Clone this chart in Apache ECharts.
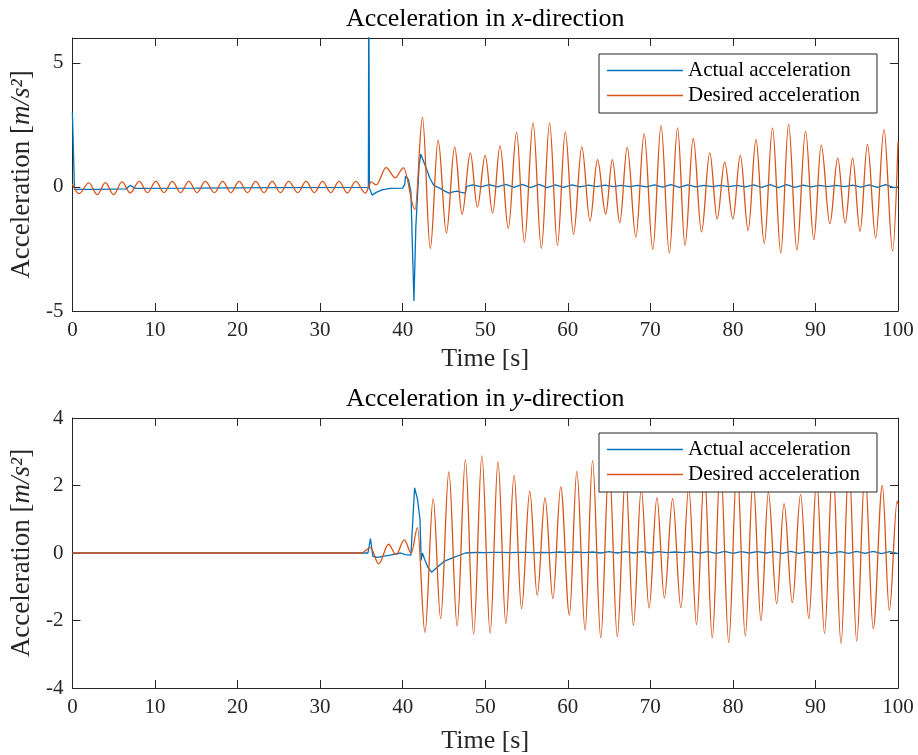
<!DOCTYPE html>
<html><head><meta charset="utf-8">
<script src="https://cdn.jsdelivr.net/npm/echarts@6/dist/echarts.min.js"></script>
<style>html,body{margin:0;padding:0;background:#fff}#c{width:918px;height:755px}</style>
</head><body><div id="c"></div>
<script>
// ---------------- data ----------------
const seriesNames = ['Actual acceleration', 'Desired acceleration'];
const timeRange = [0, 100];
const timeTickStep = 10;
const yRangeX = [-5, 6];   // x-direction panel
const yTickStepX = 5;
const yRangeY = [-4, 4];   // y-direction panel
const yTickStepY = 2;

// Desired acceleration, x-direction (times / values of turning points)
const xDesiredT = [0, 0.8, 2.0, 3.0, 4.0, 5.0, 6.0, 7.0, 8.1, 9.1, 10.1, 11.1, 12.1, 13.1, 14.1, 15.1, 16.1, 17.2, 18.2, 19.2, 20.2, 21.2, 22.2, 23.2, 24.2, 25.2, 26.2, 27.3, 28.3, 29.3, 30.3, 31.3, 32.3, 33.3, 34.3,
  35.5, 36.2, 36.8, 38.0, 39.1, 40.1, 41.5,
  42.4, 43.35, 44.3, 45.3, 46.3, 47.2, 48.2, 49.05, 50.0, 50.9, 51.8, 52.8, 53.8, 54.75, 55.8, 56.8, 57.8, 58.75, 59.7, 60.7,
  61.7, 62.7, 63.6, 64.6, 65.4, 66.3, 67.2, 68.25, 69.25, 70.3, 71.3, 72.3, 73.3, 74.2, 75.2, 76.2, 77.2, 78.1, 79.0, 80.0,
  80.9, 81.85, 82.8, 83.8, 84.8, 85.8, 86.75, 87.75, 88.8, 89.8, 90.7, 91.75, 92.7, 93.6, 94.5, 95.4, 96.3, 97.3, 98.3, 99.35, 100];
const xDesiredV = [0.12, -0.27, 0.16, -0.31, 0.17, -0.31, 0.2, -0.24, 0.22, -0.23, 0.22, -0.23, 0.22, -0.23, 0.22, -0.23, 0.22, -0.23, 0.22, -0.23, 0.22, -0.23, 0.22, -0.23, 0.22, -0.23, 0.22, -0.23, 0.22, -0.23, 0.22, -0.23, 0.22, -0.24, 0.22,
  -0.25, 0.2, 0.08, 0.78, 0.37, 0.77, -0.91,
  2.8, -2.48, 1.88, -1.85, 1.61, -1.10, 1.37, -0.81, 1.27, -1.05, 1.65, -1.67, 2.2, -2.22, 2.58, -2.48, 2.58, -2.35, 2.22, -1.91,
  1.61, -1.37, 1.10, -1.10, 1.10, -1.44, 1.59, -2.02, 2.15, -2.52, 2.47, -2.66, 2.38, -2.36, 1.95, -1.81, 1.37, -1.29, 1.0, -1.29,
  1.27, -1.75, 1.91, -2.28, 2.38, -2.66, 2.52, -2.55, 2.25, -2.12, 1.68, -1.48, 1.16, -1.45, 1.16, -1.79, 1.71, -2.06, 2.31, -2.58, 1.8];

// Actual acceleration, x-direction
const xActualT = [0, 0.25, 3, 6.5, 7.0, 7.6, 15, 25, 35.85, 35.9, 35.98, 36.3, 36.8, 37.5, 38.5, 40.0, 40.25, 40.35, 40.7, 41.0, 41.37, 41.6, 42.0, 42.2, 42.8, 43.3, 43.8, 44.5, 45.0, 45.6, 46.1, 46.6, 47.1, 47.6, 47.75,
  48.5, 49.5, 50.5, 51.5, 52.5, 53.5, 54.5, 55.5, 56.5, 57.5, 58.5, 59.5, 60.5, 61.5, 62.5, 63.5, 64.5, 65.5, 66.5, 67.5, 68.5, 69.5, 70.5, 71.5, 72.5, 73.5, 74.5,
  75.5, 76.5, 77.5, 78.5, 79.5, 80.5, 81.5, 82.5, 83.5, 84.5, 85.5, 86.5, 87.5, 88.5, 89.5, 90.5, 91.5, 92.5, 93.5, 94.5, 95.5, 96.5, 97.5, 98.5, 99.5, 100];
const xActualV = [3.0, -0.1, -0.1, -0.08, 0.07, -0.06, -0.05, -0.03, -0.02, 8, -0.05, -0.33, -0.22, -0.12, -0.06, -0.05, 0.1, 0.43, 0.3, -0.2, -4.6, -1.6, 0.9, 1.32, 0.8, 0.35, 0.05, -0.05, -0.15, -0.25, -0.2, -0.17, -0.22, -0.25, 0.02,
  0.08, 0.0, 0.09, 0.0, 0.1, -0.02, 0.1, -0.03, 0.1, -0.03, 0.08, -0.02, 0.08, 0.0, 0.07, 0.01, 0.07, 0.01, 0.06, 0.01, 0.06, 0.0, 0.08, -0.01, 0.09, -0.02, 0.08,
  0.0, 0.06, 0.01, 0.06, 0.01, 0.06, 0.0, 0.08, -0.02, 0.09, -0.03, 0.09, -0.02, 0.07, 0.0, 0.06, 0.01, 0.06, 0.01, 0.07, -0.01, 0.08, -0.02, 0.09, -0.03, 0.0];

// Desired acceleration, y-direction
const yDesiredT = [0, 35.0, 36.1, 37.1, 38.3, 39.2, 40.2, 41.05, 41.8, 42.7, 43.7, 44.6, 45.6, 46.6, 47.6, 48.6, 49.6, 50.6, 51.55, 52.5, 53.5, 54.4, 55.4, 56.3, 57.25, 58.2, 59.15, 60.2,
  61.1, 62.1, 63.0, 64.0, 65.0, 66.0, 67.0, 67.95, 68.9, 69.85, 70.8, 71.7, 72.7, 73.7, 74.65, 75.6, 76.55, 77.5, 78.5, 79.5, 80.5, 81.5,
  82.45, 83.4, 84.3, 85.3, 86.2, 87.2, 88.2, 89.2, 90.15, 91.1, 92.1, 93.1, 94.05, 95.0, 96.0, 97.0, 98.1, 98.95, 99.9, 100];
const yDesiredV = [0, 0, 0.16, -0.32, 0.26, -0.05, 0.39, 0.0, 0.75, -2.35, 1.61, -1.94, 2.4, -2.16, 2.76, -2.4, 2.88, -2.38, 2.7, -2.09, 2.3, -1.65, 1.83, -1.25, 1.64, -1.35, 1.96, -1.84,
  2.42, -2.28, 2.74, -2.51, 2.7, -2.48, 2.35, -2.14, 1.9, -1.63, 1.64, -1.33, 1.61, -1.62, 1.95, -2.12, 2.4, -2.51, 2.65, -2.65, 2.6, -2.45,
  2.2, -2.0, 1.8, -1.5, 1.46, -1.47, 1.74, -1.94, 2.2, -2.38, 2.6, -2.68, 2.7, -2.61, 2.45, -2.24, 2.0, -1.7, 1.54, 1.45];

// Actual acceleration, y-direction
const yActualT = [0, 35.8, 36.1, 36.4, 36.9, 38.5, 39.75, 40.3, 41.0, 41.15, 41.45, 41.8, 42.1, 42.25, 42.4, 42.65, 43.05, 43.5, 44.2, 45.0, 46.2, 47.6,
  49, 50, 51, 52, 53, 54, 55, 56, 57, 58, 59, 60, 61, 62, 63, 64, 65, 66, 67, 68, 69, 70, 71, 72, 73, 74,
  75, 76, 77, 78, 79, 80, 81, 82, 83, 84, 85, 86, 87, 88, 89, 90, 91, 92, 93, 94, 95, 96, 97, 98, 99, 100];
const yActualV = [0, 0, 0.43, -0.1, -0.13, -0.06, 0.0, -0.05, -0.06, -0.04, 1.93, 1.6, 1.0, -0.22, 0.0, -0.18, -0.42, -0.57, -0.42, -0.25, -0.13, 0.0,
  0.02, 0.01, 0.02, 0.02, 0.01, 0.02, 0.02, 0.01, 0.02, 0.01, 0.03, 0.01, 0.03, 0.01, 0.03, 0.0, 0.04, 0.0, 0.04, 0.0, 0.04, 0.0, 0.04, 0.01, 0.03, 0.01,
  0.04, 0.0, 0.04, -0.01, 0.05, -0.01, 0.04, 0.0, 0.04, 0.0, 0.04, -0.01, 0.05, -0.01, 0.04, 0.0, 0.04, -0.01, 0.04, -0.01, 0.05, -0.01, 0.05, -0.02, 0.04, -0.02];

// ---------------- chart ----------------
const FONT = 'Liberation Serif';
const AX = '#262626';
const BLUE = '#0072BD', ORANGE = '#D95319';
const zip = (t, v) => t.map((x, i) => [x, v[i]]);

const grids = [
  { left: 72, width: 826, top: 38, height: 273 },
  { left: 72, width: 826, top: 418, height: 272 }
];

function xAxisDef(gi, position, labels, name, gap, title) {
  const a = {
    type: 'value', gridIndex: gi, position: position,
    min: timeRange[0], max: timeRange[1], interval: timeTickStep,
    axisLine: { show: true, onZero: false, lineStyle: { color: AX, width: 1 } },
    axisTick: { show: true, inside: true, length: 8, lineStyle: { color: AX } },
    axisLabel: { show: labels, color: AX, fontFamily: FONT, fontSize: 21, margin: 9 },
    splitLine: { show: false }
  };
  if (name) {
    a.name = name; a.nameLocation = 'middle'; a.nameGap = gap;
    a.nameTextStyle = { color: title ? '#000' : AX, fontFamily: FONT, fontSize: 26,
      rich: { i: { fontStyle: 'italic', fontFamily: FONT, fontSize: 26, color: '#000' } } };
  }
  return a;
}
function yAxisDef(gi, position, labels, range, step, name) {
  const a = {
    type: 'value', gridIndex: gi, position: position,
    min: range[0], max: range[1], interval: step,
    axisLine: { show: true, onZero: false, lineStyle: { color: AX, width: 1 } },
    axisTick: { show: true, inside: true, length: 8, lineStyle: { color: AX } },
    axisLabel: { show: labels, color: AX, fontFamily: FONT, fontSize: 21, margin: 9, showMaxLabel: range[1] % step === 0 },
    splitLine: { show: false }
  };
  if (name) {
    a.name = name; a.nameLocation = 'middle'; a.nameGap = 34;
    a.nameTextStyle = { color: AX, fontFamily: FONT, fontSize: 27,
      rich: { i: { fontStyle: 'italic', fontFamily: FONT, fontSize: 27, color: AX } } };
  }
  return a;
}

function lineSeries(name, data, xi, yi, color, smooth) {
  return {
    type: 'line', name: name, data: data, xAxisIndex: xi, yAxisIndex: yi,
    showSymbol: false, symbol: 'none', clip: true,
    smooth: smooth ? 0.36 : false, smoothMonotone: smooth ? 'x' : undefined,
    lineStyle: { color: color, width: 1.3 }, itemStyle: { color: color },
    emphasis: { disabled: true }
  };
}

function legendDef(top) {
  return {
    orient: 'vertical', left: 599, top: top,
    data: seriesNames, icon: 'rect', itemWidth: 76, itemHeight: 1.5, itemGap: 0,
    backgroundColor: '#fff', borderColor: AX, borderWidth: 1, borderRadius: 0,
    padding: [4, 17, 5, 8],
    textStyle: { fontFamily: FONT, fontSize: 21, color: '#000', lineHeight: 25 },
    selectedMode: false
  };
}

const yLabel = 'Acceleration [{i|m/s²}]';

const option = {
  animation: false,
  backgroundColor: '#fff',
  grid: grids,
  xAxis: [
    xAxisDef(0, 'bottom', true, 'Time [s]', 35),
    xAxisDef(0, 'top', false, 'Acceleration in {i|x}-direction', 6, true),
    xAxisDef(1, 'bottom', true, 'Time [s]', 40),
    xAxisDef(1, 'top', false, 'Acceleration in {i|y}-direction', 6, true)
  ],
  yAxis: [
    yAxisDef(0, 'left', true, yRangeX, yTickStepX, yLabel),
    yAxisDef(0, 'right', false, yRangeX, yTickStepX),
    yAxisDef(1, 'left', true, yRangeY, yTickStepY, yLabel),
    yAxisDef(1, 'right', false, yRangeY, yTickStepY)
  ],
  legend: [legendDef(54), legendDef(433)],
  series: [
    lineSeries(seriesNames[0], zip(xActualT, xActualV), 0, 0, BLUE, false),
    lineSeries(seriesNames[1], zip(xDesiredT, xDesiredV), 0, 0, ORANGE, true),
    lineSeries(seriesNames[0], zip(yActualT, yActualV), 2, 2, BLUE, false),
    lineSeries(seriesNames[1], zip(yDesiredT, yDesiredV), 2, 2, ORANGE, true)
  ]
};

const chart = echarts.init(document.getElementById('c'), null, { renderer: 'canvas' });
chart.setOption(option);
</script>
</body></html>
